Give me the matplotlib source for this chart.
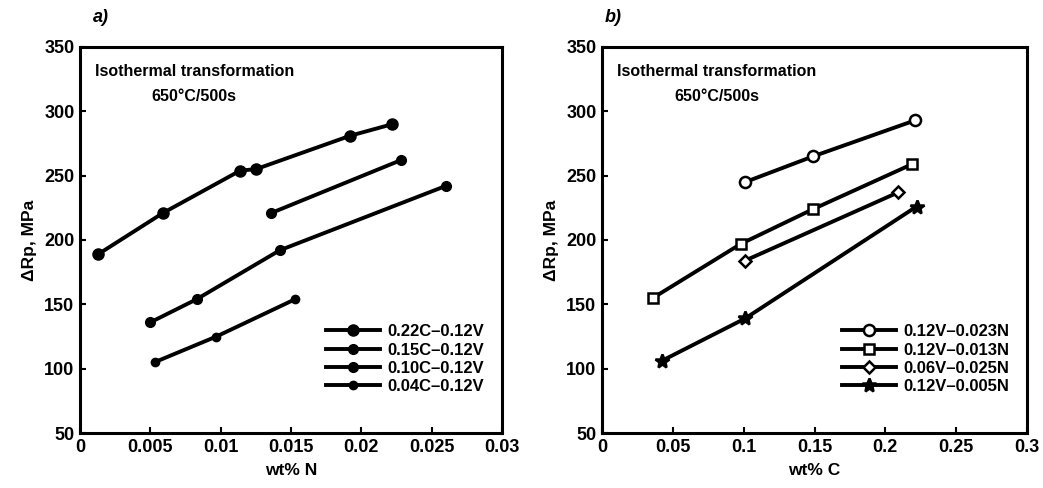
import matplotlib.pyplot as plt

plt.rcParams['font.family'] = ['Liberation Sans', 'DejaVu Sans']
plt.rcParams['font.weight'] = 'bold'

# Panel a: strength increment vs wt% N
a_labels = ['0.22C\u20130.12V', '0.15C\u20130.12V', '0.10C\u20130.12V', '0.04C\u20130.12V']
a_x = [
    [0.0013, 0.0059, 0.0114, 0.0125, 0.0192, 0.0222],
    [0.0136, 0.0228],
    [0.0050, 0.0083, 0.0142, 0.0260],
    [0.0053, 0.0097, 0.0153],
]
a_y = [
    [189, 221, 254, 255, 281, 290],
    [221, 262],
    [136, 154, 192, 242],
    [105, 125, 154],
]

# Panel b: strength increment vs wt% C
b_labels = ['0.12V\u20130.023N', '0.12V\u20130.013N', '0.06V\u20130.025N', '0.12V\u20130.005N']
b_x = [
    [0.101, 0.149, 0.221],
    [0.036, 0.098, 0.149, 0.219],
    [0.101, 0.209],
    [0.042, 0.101, 0.222],
]
b_y = [
    [245, 265, 293],
    [155, 197, 224, 259],
    [184, 237],
    [106, 139, 226],
]

fig = plt.figure(figsize=(10.43, 4.88), dpi=100)
ax1 = fig.add_axes([0.0767, 0.1127, 0.4046, 0.791])
ax2 = fig.add_axes([0.5772, 0.1127, 0.4075, 0.791])

a_styles = [dict(marker='o', ms=8), dict(marker='o', ms=7),
            dict(marker='o', ms=7), dict(marker='o', ms=6)]
for xs, ys, lab, st in zip(a_x, a_y, a_labels, a_styles):
    ax1.plot(xs, ys, color='black', lw=2.8, mfc='black', mec='black', label=lab, **st)

b_styles = [dict(marker='o', ms=8, mfc='white'), dict(marker='s', ms=7, mfc='white'),
            dict(marker='D', ms=6, mfc='white'), dict(marker='*', ms=10, mfc='black')]
for xs, ys, lab, st in zip(b_x, b_y, b_labels, b_styles):
    ax2.plot(xs, ys, color='black', lw=2.8, mec='black', mew=1.8, label=lab, **st)

for ax in (ax1, ax2):
    ax.set_ylim(50, 350)
    ax.set_yticks([50, 100, 150, 200, 250, 300, 350])
    ax.tick_params(direction='in', length=4, width=1.5, labelsize=13, pad=4)
    for sp in ax.spines.values():
        sp.set_linewidth(2.2)
    ax.set_ylabel('\u0394Rp, MPa', fontsize=12.5, fontweight='bold', labelpad=5)
    ax.text(0.035, 0.955, 'Isothermal transformation', transform=ax.transAxes,
            fontsize=11.5, fontweight='bold', va='top', ha='left')
    ax.text(0.17, 0.89, '650\u00b0C/500s', transform=ax.transAxes,
            fontsize=11.5, fontweight='bold', va='top', ha='left')
    ax.legend(loc='lower right', bbox_to_anchor=(0.985, 0.07), frameon=False,
              fontsize=12, handlelength=3.2, labelspacing=0.2, borderpad=0.2,
              handletextpad=0.45)

ax1.set_xlim(0, 0.03)
ax1.set_xticks([0, 0.005, 0.01, 0.015, 0.02, 0.025, 0.03])
ax1.set_xticklabels(['0', '0.005', '0.01', '0.015', '0.02', '0.025', '0.03'])
ax1.set_xlabel('wt% N', fontsize=12.5, fontweight='bold', labelpad=5)

ax2.set_xlim(0, 0.3)
ax2.set_xticks([0, 0.05, 0.1, 0.15, 0.2, 0.25, 0.3])
ax2.set_xticklabels(['0', '0.05', '0.1', '0.15', '0.2', '0.25', '0.3'])
ax2.set_xlabel('wt% C', fontsize=12.5, fontweight='bold', labelpad=5)

fig.text(0.089, 0.965, 'a)', fontsize=13, fontweight='bold', style='italic', va='center')
fig.text(0.580, 0.965, 'b)', fontsize=13, fontweight='bold', style='italic', va='center')

fig.savefig('out.png', dpi=100)
